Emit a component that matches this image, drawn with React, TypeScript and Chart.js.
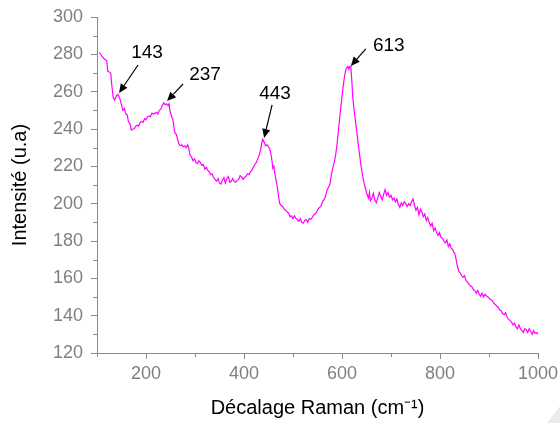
import React, { useEffect, useRef } from "react";
import { Chart, registerables } from "chart.js";

Chart.register(...registerables);

// Raman shift (cm-1)
const ramanShift: number[] = [
  105, 110, 115, 120, 122, 125, 128, 130, 133, 136, 140, 143, 147, 150, 153, 156, 159, 162, 164, 167,
  170, 173, 176, 179, 182, 185, 188, 191, 194, 197, 200, 203, 206, 209, 212, 215, 218, 221, 224, 227,
  230, 233, 236, 239, 242, 245, 247, 249, 252, 255, 257, 259, 262, 265, 267, 270, 273, 276, 279, 282,
  285, 287, 290, 293, 296, 299, 302, 305, 308, 311, 314, 317, 320, 323, 326, 329, 332, 335, 338, 341,
  344, 347, 350, 353, 356, 359, 362, 365, 368, 371, 374, 377, 380, 383, 386, 389, 392, 395, 398, 401,
  404, 407, 410, 413, 416, 419, 422, 425, 428, 431, 434, 436, 438, 440, 442, 444, 447, 450, 453, 456,
  459, 461, 463, 466, 469, 471, 473, 476, 479, 482, 485, 488, 491, 494, 497, 500, 503, 506, 509, 512,
  515, 518, 521, 524, 527, 530, 533, 536, 539, 542, 545, 548, 551, 554, 557, 560, 563, 566, 569, 572,
  575, 578, 581, 584, 587, 590, 593, 596, 599, 602, 605, 608, 610, 612, 614, 616, 618, 620, 622, 624,
  627, 630, 633, 636, 639, 642, 645, 648, 651, 654, 656, 658, 661, 664, 667, 670, 673, 676, 679, 682,
  685, 688, 691, 694, 697, 700, 703, 706, 709, 712, 715, 718, 721, 724, 727, 730, 733, 736, 739, 742,
  745, 748, 751, 754, 757, 760, 763, 766, 769, 772, 775, 778, 781, 784, 787, 790, 793, 796, 799, 802,
  805, 808, 811, 814, 817, 820, 823, 826, 828, 830, 833, 835, 838, 841, 844, 847, 850, 853, 856, 859,
  862, 865, 868, 871, 874, 877, 880, 883, 886, 889, 892, 895, 898, 901, 904, 907, 910, 913, 916, 919,
  922, 925, 928, 931, 934, 937, 940, 943, 946, 949, 952, 955, 958, 961, 964, 967, 970, 973, 976, 979,
  982, 985, 988, 991, 994, 997, 1000,
];

// Intensity (u.a)
const intensity: number[] = [
  281, 279, 277.5, 276.5, 271, 270.5, 270, 264, 257, 255.5, 258, 258.5, 256, 253, 250, 251, 248, 247.5, 244, 243,
  239.5, 240, 240, 241.5, 242, 241.5, 243.5, 244, 243.5, 245.5, 245, 246.5, 247, 246.5, 248.5, 248, 248.5, 249, 248, 250,
  250.5, 252.5, 254, 253, 253.5, 252.5, 253.5, 249.5, 247, 245, 241, 238, 237, 234, 232, 231, 231.5, 230.5, 231, 230,
  231.5, 230, 226, 225, 223, 224, 222, 221.5, 223, 222, 220.5, 221, 218.5, 219.5, 218, 217, 215.5, 216, 214, 213,
  212, 213.5, 211, 210.5, 212.5, 214, 211, 213.5, 214.5, 211.5, 212, 213.5, 212, 211.5, 212.5, 213, 215, 214.5, 213, 214,
  214.5, 216, 215.5, 217, 218, 219.5, 221, 222, 224, 226, 229, 232, 234.5, 233.5, 232.5, 231, 231.5, 230.5, 229, 225,
  219, 220, 216, 212, 207, 203, 200, 199, 198.5, 197, 196.5, 195.5, 195, 193, 193.5, 192, 193.5, 192, 191.5, 190.5,
  192, 190, 189.5, 191, 191.5, 190, 192, 191.5, 192.5, 194, 194.5, 195.5, 197, 198, 198.5, 201, 202, 203.5, 207, 208.5,
  210, 215, 219, 222, 226, 232, 240, 248, 255, 262, 268, 272, 273, 273.5, 272, 273.5, 273.5, 266, 257, 252,
  245, 239, 232, 226, 220, 215, 211, 208, 205, 203, 206, 201.5, 203, 205.5, 202, 200.5, 203, 206, 204, 202,
  205, 207.5, 204.5, 206, 203.5, 204.5, 202, 203, 201, 202.5, 199.5, 198, 200.5, 199, 201, 200, 198.5, 200, 199, 201,
  202.5, 199, 196.5, 198, 194, 197, 195.5, 193, 194.5, 191, 192.5, 190, 188, 189.5, 185.5, 187, 184.5, 183, 184.5, 182,
  181.5, 180, 179, 180.5, 177, 178.5, 176, 175.5, 174, 173.5, 170, 167, 164, 163, 161.5, 160.5, 161.5, 159, 158, 157,
  156, 155.5, 154, 153.5, 152, 153.5, 151.5, 150.5, 152, 150, 151.5, 150.5, 150, 149, 148.5, 148, 146.5, 146, 145, 144.5,
  143, 142.5, 141, 140.5, 141.5, 139, 138, 137.5, 136.5, 135, 136, 134, 133, 135, 133, 132, 131, 133, 132.5, 131,
  133, 131.5, 130, 132, 130.5, 131, 130,
];

const xMajorTicks: number[] = [200, 400, 600, 800, 1000];
const xMinorTicks: number[] = [100, 300, 500, 700, 900];
const yMinorTicks: number[] = [130, 150, 170, 190, 210, 230, 250, 270, 290];

// Peak annotations
const peakLabels: string[] = ["143", "237", "443", "613"];
const peakX: number[] = [145, 243, 441, 618];
const peakY: number[] = [259.3, 255, 235.2, 273.8];

const FONT = "'Liberation Sans', Arial, Helvetica, sans-serif";
const AXIS_GRAY = "#8a8a8a";
const LABEL_GRAY = "#808080";

// pixel offsets for arrow tails and label centers relative to arrow tip
const tailOffsets: [number, number][] = [[19, -28], [16, -17], [8, -33], [15, -17]];
const textOffsets: [number, number][] = [[28, -40], [38, -26], [11, -44.5], [38, -20]];

const extrasPlugin = {
  id: "extras",
  afterDraw(chart: any) {
    const { ctx, chartArea, scales } = chart;
    const xs = scales.x;
    const ys = scales.y;
    ctx.save();
    // minor ticks
    ctx.strokeStyle = AXIS_GRAY;
    ctx.lineWidth = 1;
    ctx.beginPath();
    xMinorTicks.forEach((v) => {
      const px = Math.round(xs.getPixelForValue(v)) + 0.5;
      ctx.moveTo(px, chartArea.bottom);
      ctx.lineTo(px, chartArea.bottom + 4);
    });
    yMinorTicks.forEach((v) => {
      const py = Math.round(ys.getPixelForValue(v)) + 0.5;
      ctx.moveTo(chartArea.left - 4, py);
      ctx.lineTo(chartArea.left, py);
    });
    ctx.stroke();

    // annotations
    ctx.strokeStyle = "#000";
    ctx.fillStyle = "#000";
    ctx.lineWidth = 1.2;
    ctx.font = `19px ${FONT}`;
    ctx.textAlign = "center";
    ctx.textBaseline = "middle";
    peakLabels.forEach((label, i) => {
      const tx = xs.getPixelForValue(peakX[i]);
      const ty = ys.getPixelForValue(peakY[i]);
      const sx = tx + tailOffsets[i][0];
      const sy = ty + tailOffsets[i][1];
      const ang = Math.atan2(ty - sy, tx - sx);
      const headLen = 9;
      const headW = 4;
      const bx = tx - headLen * Math.cos(ang);
      const by = ty - headLen * Math.sin(ang);
      ctx.beginPath();
      ctx.moveTo(sx, sy);
      ctx.lineTo(bx, by);
      ctx.stroke();
      ctx.beginPath();
      ctx.moveTo(tx, ty);
      ctx.lineTo(bx + headW * Math.sin(ang), by - headW * Math.cos(ang));
      ctx.lineTo(bx - headW * Math.sin(ang), by + headW * Math.cos(ang));
      ctx.closePath();
      ctx.fill();
      ctx.fillText(label, tx + textOffsets[i][0], ty + textOffsets[i][1]);
    });

    // faint corner shading
    const W = chart.width;
    const H = chart.height;
    ctx.fillStyle = "#ebebeb";
    ctx.beginPath();
    ctx.moveTo(W - 13, H);
    ctx.lineTo(W, H - 17);
    ctx.lineTo(W, H);
    ctx.closePath();
    ctx.fill();
    ctx.restore();
  },
};

export default function App() {
  const canvasRef = useRef<HTMLCanvasElement | null>(null);

  useEffect(() => {
    const canvas = canvasRef.current;
    if (!canvas) return;
    const points = ramanShift.map((x, i) => ({ x, y: intensity[i] }));
    const chart = new Chart(canvas, {
      type: "line",
      data: {
        datasets: [
          {
            data: points,
            borderColor: "#ff00ff",
            borderWidth: 1.2,
            pointRadius: 0,
            tension: 0,
            fill: false,
          },
        ],
      },
      options: {
        animation: false,
        responsive: false,
        devicePixelRatio: 1,
        layout: { padding: { top: 17, right: 0, left: 0, bottom: 0 } },
        plugins: { legend: { display: false }, tooltip: { enabled: false } },
        scales: {
          x: {
            type: "linear",
            min: 100,
            max: 1000,
            afterBuildTicks: (s: any) => {
              s.ticks = xMajorTicks.map((v) => ({ value: v }));
            },
            afterFit: (s: any) => {
              s.height = 70;
              s.paddingRight = 22;
              s.paddingLeft = 0;
            },
            grid: { drawOnChartArea: false, drawTicks: true, tickLength: 6, color: AXIS_GRAY },
            border: { display: true, color: AXIS_GRAY, width: 1 },
            ticks: {
              color: LABEL_GRAY,
              font: { family: FONT, size: 18 },
              padding: 4,
              maxRotation: 0,
              autoSkip: false,
              callback: (v: any) => String(v),
            },
            title: {
              display: true,
              text: "Décalage Raman (cm⁻¹)",
              color: "#000",
              font: { family: FONT, size: 20 },
              padding: { top: 0, bottom: 3 },
            },
          },
          y: {
            type: "linear",
            min: 120,
            max: 300,
            afterFit: (s: any) => {
              s.width = 97;
              s.paddingTop = 0;
              s.paddingBottom = 0;
            },
            grid: { drawOnChartArea: false, drawTicks: true, tickLength: 6, color: AXIS_GRAY },
            border: { display: true, color: AXIS_GRAY, width: 1 },
            ticks: {
              stepSize: 20,
              color: LABEL_GRAY,
              font: { family: FONT, size: 18 },
              padding: 8,
              callback: (v: any) => String(v),
            },
            title: {
              display: true,
              text: "Intensité (u.a)",
              color: "#000",
              font: { family: FONT, size: 20 },
              padding: { top: 8, bottom: 0 },
            },
          },
        },
      },
      plugins: [extrasPlugin],
    });
    return () => chart.destroy();
  }, []);

  return (
    <div style={{ position: "fixed", left: 0, top: 0, width: 560, height: 423, background: "#fff" }}>
      <canvas ref={canvasRef} width={560} height={423} style={{ display: "block" }} />
    </div>
  );
}
